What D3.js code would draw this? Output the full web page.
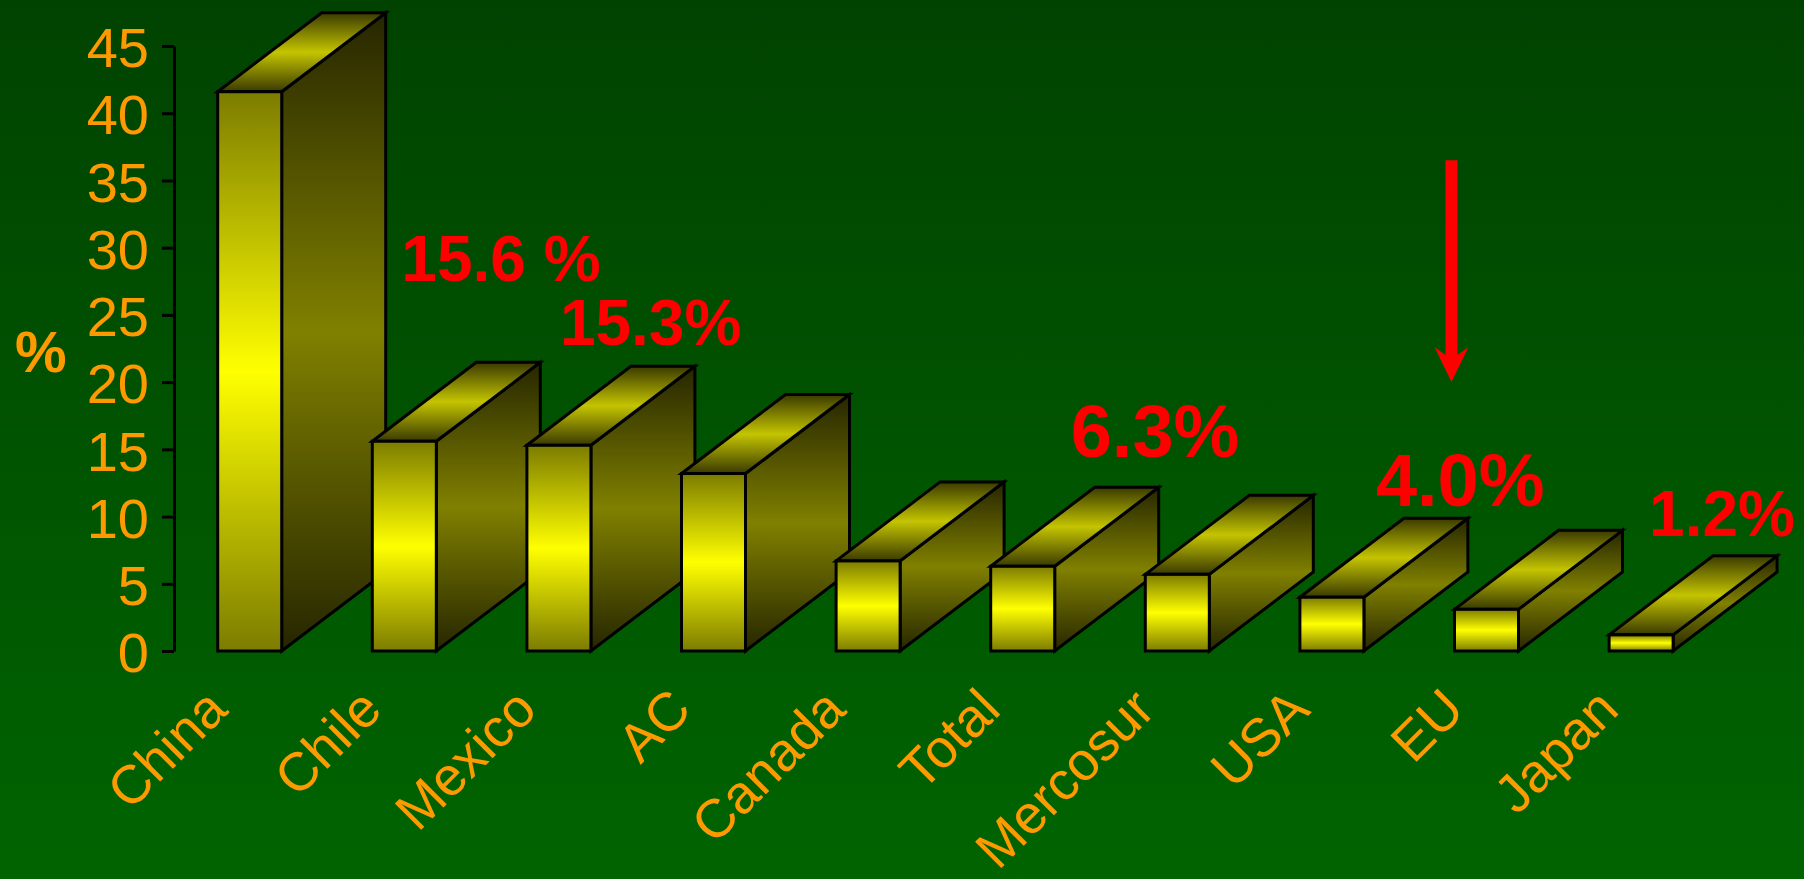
<!DOCTYPE html>
<html>
<head>
<meta charset="utf-8">
<script src="https://cdn.jsdelivr.net/npm/d3@7"></script>
<style>
  html, body { margin: 0; padding: 0; overflow: hidden; background: #005500; }
  svg { display: block; }
</style>
</head>
<body>
<svg id="chart" width="1804" height="879"></svg>
<script>
// ---- data ----
const categories = ["China", "Chile", "Mexico", "AC", "Canada", "Total", "Mercosur", "USA", "EU", "Japan"];
const values = [41.6, 15.6, 15.3, 13.2, 6.7, 6.3, 5.7, 4.0, 3.1, 1.2];
const yTicks = [0, 5, 10, 15, 20, 25, 30, 35, 40, 45];
const yTitle = "%";

// highlighted growth figures
const calloutCategories = ["Chile", "Mexico", "Total", "USA", "Japan"];
const calloutTexts = ["15.6 %", "15.3%", "6.3%", "4.0%", "1.2%"];

// ---- layout ----
const W = 1804, H = 879;
const depth = { dx: 104, dy: 79 };          // oblique 3-D offset of each bar
const calloutLayout = [                      // offset from bar's front-left / top
  { dx: 29, dy: -160, size: 64 },
  { dx: 33, dy: -100, size: 64 },
  { dx: 80, dy: -109, size: 74 },
  { dx: 76, dy: -91,  size: 74 },
  { dx: 40, dy: -99,  size: 64 }
];
const arrow = { category: "EU", dx: -3, from: 36.5, to: 20, shaft: 6, head: 17, headLen: 35 };

const FONT = "'Liberation Sans', Arial, Helvetica, sans-serif";
const ORANGE = "#ff9900";

const svg = d3.select("#chart");
const defs = svg.append("defs");

function vGradient(id, stops) {
  const g = defs.append("linearGradient").attr("id", id)
    .attr("x1", 0).attr("y1", 0).attr("x2", 0).attr("y2", 1);
  stops.forEach(([o, c]) => g.append("stop").attr("offset", o).attr("stop-color", c));
}
vGradient("bg", [[0, "#004300"], [1, "#006400"]]);
vGradient("face-front", [[0, "#7c7c00"], [0.5, "#ffff00"], [1, "#7c7c00"]]);
vGradient("face-side", [[0, "#262600"], [0.5, "#808000"], [1, "#262600"]]);
vGradient("face-top", [[0, "#3a3a00"], [0.5, "#c4c400"], [1, "#3a3a00"]]);

svg.append("rect").attr("width", W).attr("height", H).attr("fill", "url(#bg)");

// ---- scales ----
const x = d3.scaleBand()
  .domain(categories)
  .range([217.7, 1673.1])
  .paddingInner(0.586)
  .paddingOuter(0);
const y = d3.scaleLinear().domain([0, 45]).range([651, 46]);

const data = categories.map((c, i) => ({ category: c, value: values[i] }));

// ---- bars ----
const bw = x.bandwidth();
const bars = svg.append("g").attr("class", "bars")
  .attr("stroke", "#000").attr("stroke-width", 3).attr("stroke-linejoin", "miter");

data.forEach(d => {
  const x0 = x(d.category), x1 = x0 + bw;
  const yt = y(d.value), yb = y(0);
  const { dx, dy } = depth;
  const g = bars.append("g").attr("class", "bar");
  g.append("path").attr("fill", "url(#face-side)")
    .attr("d", `M${x1},${yt}L${x1 + dx},${yt - dy}L${x1 + dx},${yb - dy}L${x1},${yb}Z`);
  g.append("path").attr("fill", "url(#face-top)")
    .attr("d", `M${x0},${yt}L${x0 + dx},${yt - dy}L${x1 + dx},${yt - dy}L${x1},${yt}Z`);
  g.append("rect").attr("fill", "url(#face-front)")
    .attr("x", x0).attr("y", yt).attr("width", bw).attr("height", yb - yt);
});

// ---- y axis ----
const yAxisG = svg.append("g")
  .attr("transform", "translate(174,0)")
  .call(d3.axisLeft(y).tickValues(yTicks).tickSize(12).tickSizeOuter(0).tickPadding(13));
yAxisG.select(".domain").attr("stroke", "#000").attr("stroke-width", 3);
yAxisG.selectAll(".tick line").attr("stroke", "#000").attr("stroke-width", 3);
yAxisG.selectAll(".tick text")
  .attr("fill", ORANGE).attr("font-size", 56).attr("font-family", FONT).attr("dy", "0.37em");

svg.append("text")
  .attr("x", 15).attr("y", 372)
  .attr("fill", ORANGE).attr("font-size", 58).attr("font-weight", "bold").attr("font-family", FONT)
  .text(yTitle);

// ---- category labels ----
svg.append("g").attr("class", "x-labels")
  .selectAll("text").data(categories).join("text")
  .attr("transform", c => `translate(${x(c) + bw / 2 - 20},712) rotate(-45)`)
  .attr("text-anchor", "end")
  .attr("fill", ORANGE).attr("font-size", 54).attr("font-family", FONT)
  .text(c => c);

// ---- callouts ----
svg.append("g").attr("class", "callouts")
  .selectAll("text").data(calloutCategories).join("text")
  .attr("x", (c, i) => x(c) + calloutLayout[i].dx)
  .attr("y", (c, i) => y(values[categories.indexOf(c)]) + calloutLayout[i].dy)
  .attr("fill", "#ff0000").attr("font-weight", "bold").attr("font-family", FONT)
  .attr("font-size", (c, i) => calloutLayout[i].size)
  .text((c, i) => calloutTexts[i]);

// ---- arrow ----
const ax = x(arrow.category) + arrow.dx;
const aTop = y(arrow.from), aTip = y(arrow.to);
const aBarb = aTip - arrow.headLen, aNeck = aBarb + 8;
svg.append("path").attr("fill", "#ff0000")
  .attr("d", `M${ax - arrow.shaft},${aTop}L${ax + arrow.shaft},${aTop}L${ax + arrow.shaft},${aNeck}` +
             `L${ax + arrow.head},${aBarb}L${ax},${aTip}L${ax - arrow.head},${aBarb}L${ax - arrow.shaft},${aNeck}Z`);
</script>
</body>
</html>
